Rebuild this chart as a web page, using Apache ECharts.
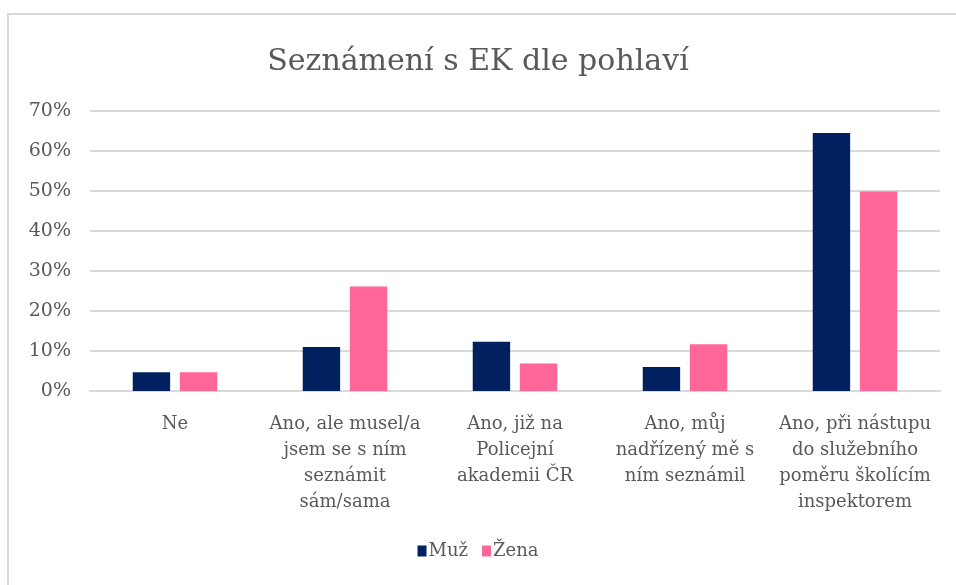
<!DOCTYPE html>
<html>
<head>
<meta charset="utf-8">
<script src="https://cdn.jsdelivr.net/npm/echarts@6/dist/echarts.min.js"></script>
<style>
  html, body { margin: 0; padding: 0; background: #fff; }
  #main { width: 956px; height: 585px; }
</style>
</head>
<body>
<div id="main"></div>
<script>
var categories = [
  'Ne',
  'Ano, ale musel/a\njsem se s ním\nseznámit\nsám/sama',
  'Ano, již na\nPolicejní\nakademii ČR',
  'Ano, můj\nnadřízený mě s\nním seznámil',
  'Ano, při nástupu\ndo služebního\npoměru školícím\ninspektorem'
];
var muz = [4.7, 11.0, 12.3, 6.0, 64.5];
var zena = [4.7, 26.1, 6.9, 11.7, 49.9];
var yTicks = [0, 10, 20, 30, 40, 50, 60, 70];

var font = "'DejaVu Serif', 'Liberation Serif', serif";
var chart = echarts.init(document.getElementById('main'));

var option = {
  animation: false,
  textStyle: { fontFamily: font },
  graphic: [{
    type: 'rect',
    shape: { x: 8, y: 14, width: 960, height: 580 },
    style: { fill: 'none', stroke: '#d9d9d9', lineWidth: 2 },
    silent: true
  }],
  title: {
    text: 'Seznámení s EK dle pohlaví',
    left: 'center',
    top: 42,
    textStyle: { fontFamily: font, fontSize: 30, fontWeight: 'normal', color: '#595959' }
  },
  legend: {
    data: ['Muž', 'Žena'],
    bottom: 20,
    left: 'center',
    icon: 'rect',
    itemWidth: 9,
    itemHeight: 11,
    itemGap: 14,
    textStyle: { fontFamily: font, fontSize: 18, color: '#595959', padding: [0, 0, 0, -3] }
  },
  grid: { left: 90, right: 16, top: 111, bottom: 194 },
  xAxis: {
    type: 'category',
    data: categories,
    axisLine: { lineStyle: { color: '#d9d9d9', width: 2 } },
    axisTick: { show: false },
    axisLabel: {
      interval: 0,
      fontFamily: font,
      fontSize: 18,
      lineHeight: 26,
      color: '#595959',
      margin: 20
    }
  },
  yAxis: {
    type: 'value',
    min: yTicks[0],
    max: yTicks[yTicks.length - 1],
    interval: 10,
    axisLine: { show: false },
    axisTick: { show: false },
    splitLine: { lineStyle: { color: '#d9d9d9', width: 2 } },
    axisLabel: {
      fontFamily: font,
      fontSize: 19,
      color: '#595959',
      margin: 19,
      formatter: '{value}%'
    }
  },
  series: [{
    name: 'Muž',
    type: 'bar',
    data: muz,
    barWidth: '22%',
    barGap: '26%',
    itemStyle: { color: '#002060' }
  }, {
    name: 'Žena',
    type: 'bar',
    data: zena,
    barWidth: '22%',
    itemStyle: { color: '#ff6699' }
  }]
};
chart.setOption(option);
</script>
</body>
</html>
